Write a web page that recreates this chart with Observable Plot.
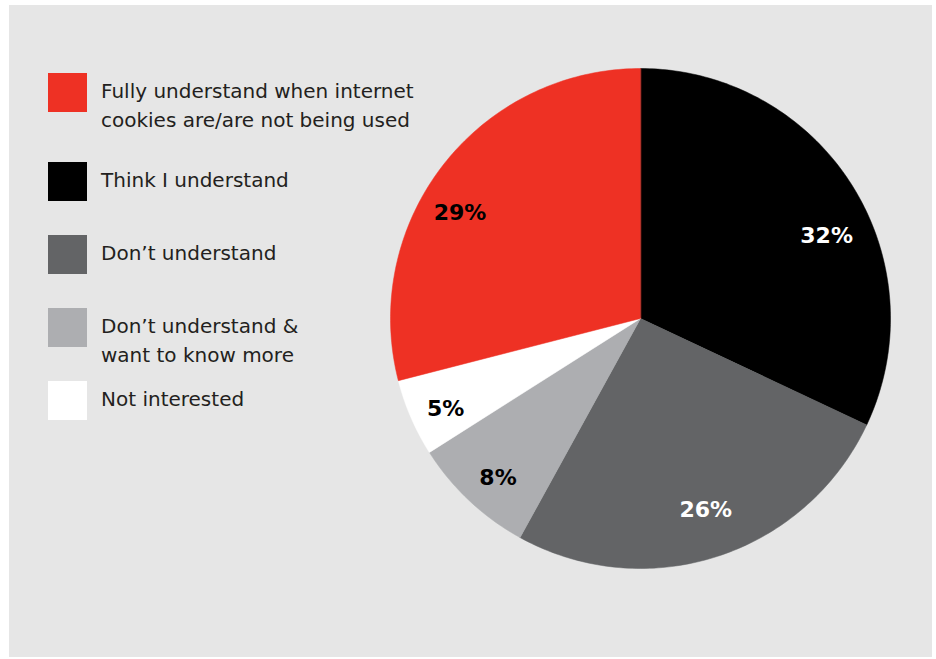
<!DOCTYPE html>
<html>
<head>
<meta charset="utf-8">
<script src="https://cdn.jsdelivr.net/npm/d3@7"></script>
<script src="https://cdn.jsdelivr.net/npm/@observablehq/plot@0.6"></script>
<style>
  html, body { margin: 0; padding: 0; background: #ffffff; }
  #wrap { position: relative; width: 936px; height: 659px; overflow: hidden; }
  #panel { position: absolute; left: 9px; top: 5px; width: 923px; height: 652px; background: #e6e6e6; }
  #chart { position: absolute; left: 0; top: 0; }
  #legend { position: absolute; left: 0; top: 0; font-family: "DejaVu Sans", sans-serif; font-size: 20px; line-height: 29px; color: #231f20; }
  .item { position: absolute; left: 48px; }
  .sw { position: absolute; left: 0; top: 0; width: 39px; height: 39px; }
  .lab { position: absolute; left: 53px; top: 4px; white-space: nowrap; }
</style>
</head>
<body>
<div id="wrap">
  <div id="panel"></div>
  <div id="chart"></div>
  <div id="legend"></div>
</div>
<script>
// ---- data ----
const categories = [
  "Fully understand when internet cookies are/are not being used",
  "Think I understand",
  "Don\u2019t understand",
  "Don\u2019t understand & want to know more",
  "Not interested"
];
const legendLines = [
  ["Fully understand when internet", "cookies are/are not being used"],
  ["Think I understand"],
  ["Don\u2019t understand"],
  ["Don\u2019t understand &", "want to know more"],
  ["Not interested"]
];
const values = [29, 32, 26, 8, 5];          // percent
const pieOrder = [1, 2, 3, 4, 0];           // clockwise from 12 o'clock
const colors = ["#ee3124", "#000000", "#636466", "#adaeb1", "#ffffff"];
const labelColors = ["#000000", "#ffffff", "#ffffff", "#000000", "#000000"];

// ---- layout (styles) ----
const legendTops = [73, 162, 235, 308, 381];
const labelAngleShift = [-7.5, 8.4, -0.8, -1.4, -1.6];   // degrees, label placement tweak
const labelRadius = [0.836, 0.815, 0.81, 0.855, 0.86];   // fraction of pie radius

// ---- build slices ----
const total = d3.sum(values);
let acc = 0;
const slices = pieOrder.map(i => {
  const a0 = acc / total * 2 * Math.PI;
  acc += values[i];
  const a1 = acc / total * 2 * Math.PI;
  return {i, a0, a1, value: values[i], name: categories[i]};
});
const pt = a => [Math.sin(a), -Math.cos(a)];
const features = slices.map(s => {
  const ring = [[0, 0]];
  const n = Math.max(2, Math.ceil((s.a1 - s.a0) / (Math.PI / 180)));
  for (let k = 0; k <= n; k++) ring.push(pt(s.a0 + (s.a1 - s.a0) * k / n));
  ring.push([0, 0]);
  return {type: "Feature", properties: {i: s.i}, geometry: {type: "Polygon", coordinates: [ring]}};
});
const labels = slices.map(s => {
  const m = (s.a0 + s.a1) / 2 + labelAngleShift[s.i] * Math.PI / 180;
  const [x, y] = pt(m);
  const r = labelRadius[s.i];
  return {x: x * r, y: y * r, text: s.value + "%", color: labelColors[s.i]};
});

const chart = Plot.plot({
  width: 936,
  height: 659,
  marginLeft: 390,
  marginRight: 46,
  marginTop: 68,
  marginBottom: 91,
  style: {background: "transparent", overflow: "visible"},
  projection: {type: "identity", domain: {type: "MultiPoint", coordinates: [[-1, -1], [1, 1]]}},
  marks: [
    Plot.geo(features, {fill: d => colors[d.properties.i], stroke: d => colors[d.properties.i], strokeWidth: 0.5}),
    Plot.text(labels, {
      x: "x", y: "y", text: "text", fill: d => d.color,
      fontSize: 22, fontWeight: "bold", fontFamily: "DejaVu Sans, sans-serif"
    })
  ]
});
document.getElementById("chart").append(chart);

// ---- legend ----
const legend = document.getElementById("legend");
categories.forEach((c, i) => {
  const item = document.createElement("div");
  item.className = "item";
  item.style.top = legendTops[i] + "px";
  const sw = document.createElement("div");
  sw.className = "sw";
  sw.style.background = colors[i];
  const lab = document.createElement("div");
  lab.className = "lab";
  lab.innerHTML = legendLines[i].map(t => t.replace(/&/g, "&amp;")).join("<br>");
  item.append(sw, lab);
  legend.append(item);
});
</script>
</body>
</html>
